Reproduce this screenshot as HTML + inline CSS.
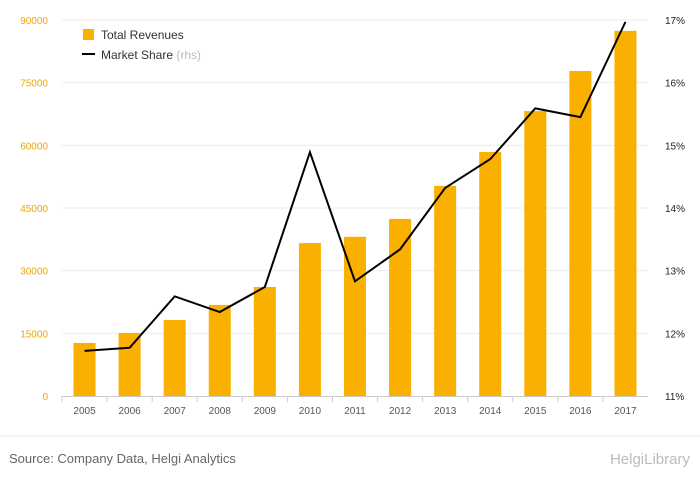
<!DOCTYPE html>
<html><head><meta charset="utf-8">
<style>
body{margin:0;background:#fff;font-family:"Liberation Sans",sans-serif;}
svg text{font-family:"Liberation Sans",sans-serif;}
</style></head>
<body>
<svg id="chart" width="700" height="483">
  <rect x="0" y="0" width="700" height="483" fill="#fff"/>
  <g id="grid"></g><g id="bars"></g><g id="line"></g><g id="axes"></g>
  <g>
    <rect x="83" y="29" width="11" height="11" fill="#f9b000"/>
    <text x="101" y="39" font-size="12" fill="#333">Total Revenues</text>
    <line x1="82" y1="54" x2="95" y2="54" stroke="#000" stroke-width="2"/>
    <text x="101" y="59" font-size="12" fill="#333">Market Share <tspan fill="#bbb">(rhs)</tspan></text>
  </g>
  <line x1="0" y1="436" x2="700" y2="436" stroke="#e5e5e5"/>
  <text x="9" y="463" font-size="13" fill="#666">Source: Company Data, Helgi Analytics</text>
  <text x="690" y="464" font-size="15" fill="#bbb" text-anchor="end">HelgiLibrary</text>
</svg>
<script>
const years=["2005","2006","2007","2008","2009","2010","2011","2012","2013","2014","2015","2016","2017"];
const revenues=[12700,15100,18200,21800,26100,36600,38100,42400,50300,58400,68200,77800,87400];
const share=[11.72,11.77,12.59,12.34,12.74,14.89,12.83,13.34,14.32,14.78,15.59,15.45,16.97];
const leftTicks=[0,15000,30000,45000,60000,75000,90000];
const rightTicks=[11,12,13,14,15,16,17];
const NS="http://www.w3.org/2000/svg";
const x0=62,x1=648,yb=396,yt=20;
const step=(x1-x0)/years.length;
const xc=i=>x0+step*(i+0.5);
const yL=v=>yb-(v/90000)*(yb-yt);
const yR=v=>yb-((v-11)/6)*(yb-yt);
function mk(t,a,p){const e=document.createElementNS(NS,t);for(const k in a)e.setAttribute(k,a[k]);p.appendChild(e);return e;}
const grid=document.getElementById('grid'),bars=document.getElementById('bars'),line=document.getElementById('line'),axes=document.getElementById('axes');
leftTicks.forEach((v,i)=>{
  if(v>0){const g=mk('line',{x1:x0,x2:x1,y1:yL(v),y2:yL(v),stroke:'#ececec'},grid);
  
  }
  const t=mk('text',{x:48,y:yL(v)+4,'font-size':10,fill:'#f0a500','text-anchor':'end'},axes);
  t.textContent=v;
  
  
});
rightTicks.forEach(v=>{
  const t=mk('text',{x:665,y:yR(v)+4,'font-size':10,fill:'#222'},axes);
  t.textContent=v+'%';
  
  
});
const ax=mk('line',{x1:x0,x2:x1,y1:yb+0.5,y2:yb+0.5,stroke:'#ccc'},axes);


years.forEach((y,i)=>{
  const b=mk('rect',{x:xc(i)-11,y:yL(revenues[i]),width:22,height:yb-yL(revenues[i]),fill:'#f9b000'},bars);
  
  
  const tk=mk('line',{x1:x0+step*i,x2:x0+step*i,y1:yb,y2:yb+6,stroke:'#ccc'},axes);
  
  
  const t=mk('text',{x:xc(i),y:yb+18,'font-size':10,fill:'#555','text-anchor':'middle'},axes);
  t.textContent=y;
  
  
});
const pl=mk('polyline',{points:share.map((v,i)=>xc(i)+','+yR(v)).join(' '),fill:'none',stroke:'#000','stroke-width':2},line);


</script>
</body></html>
